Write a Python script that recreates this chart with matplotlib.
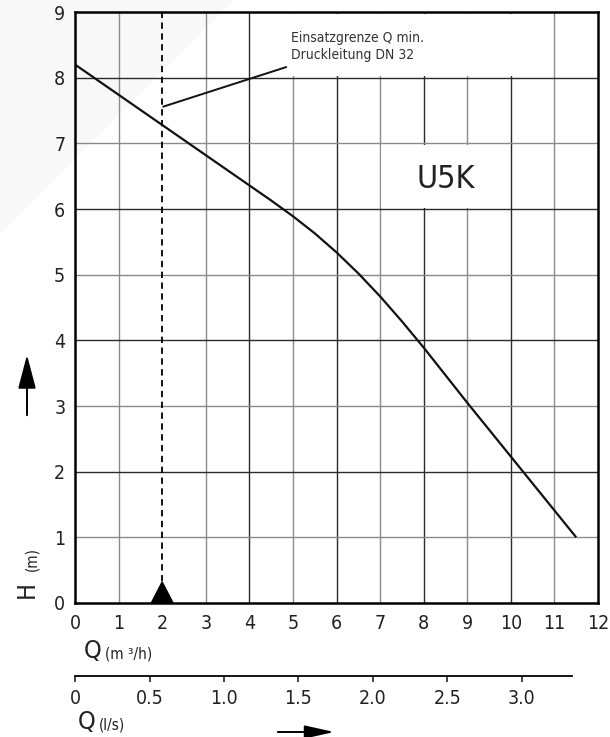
import matplotlib
matplotlib.use('Agg')
import matplotlib.pyplot as plt
from matplotlib.patches import Polygon, Rectangle, FancyArrowPatch

plt.rcParams['font.family'] = ['DejaVu Sans']
plt.rcParams['font.stretch'] = 'condensed'

# pump curve U5K
q_m3h = [0, 1, 2, 3, 4, 4.5, 5, 5.5, 6, 6.5, 7, 7.5, 8, 8.5, 9, 10, 11, 11.5]
head_m = [8.2, 7.74, 7.28, 6.82, 6.36, 6.13, 5.89, 5.63, 5.34, 5.02, 4.67, 4.29, 3.89, 3.47,
          3.05, 2.23, 1.41, 1.0]

q_min = 2  # Einsatzgrenze
x_ticks = list(range(0, 13))
y_ticks = list(range(0, 10))
ls_ticks = [0, 0.5, 1.0, 1.5, 2.0, 2.5, 3.0]
ls_labels = ['0', '0.5', '1.0', '1.5', '2.0', '2.5', '3.0']

note_text = 'Einsatzgrenze Q min.\nDruckleitung DN 32'
pump_name = 'U5K'

W, H = 610, 737
fig = plt.figure(figsize=(W / 100, H / 100), dpi=100)

# faint watermark corner in the background
fig.patches.append(Polygon([(0, 1), (233 / W, 1), (0, 1 - 233 / H)],
                           closed=True, transform=fig.transFigure,
                           facecolor='#f8f8f8', edgecolor='none', zorder=-5))

ax = fig.add_axes([75 / W, 1 - 603 / H, 523 / W, 591 / H])
ax.set_facecolor('none')
ax.set_xlim(0, 12)
ax.set_ylim(0, 9)

dark = '#2a2a2a'
light = '#8a8a8a'
for q in range(1, 12):
    if q == q_min:
        continue
    ax.vlines(q, 0, 9, colors=dark if q % 2 == 0 else light, lw=1.0, zorder=1)
for h in range(1, 9):
    ax.hlines(h, 0, 12, colors=dark if h % 2 == 0 else light, lw=1.0, zorder=1)

# blank boxes for the note and the pump name
ax.add_patch(Rectangle((4.03, 8.03), 6.94, 0.94, facecolor='white', edgecolor='none', zorder=1.5))
ax.add_patch(Rectangle((7.03, 6.02), 2.94, 0.96, facecolor='white', edgecolor='none', zorder=1.5))

ax.vlines(q_min, 0, 9, colors='black', lw=1.3, linestyles=(0, (3.5, 2.5)), zorder=2)
ax.fill([q_min - 0.25, q_min + 0.25, q_min], [0, 0, 0.32], color='black', zorder=4)

ax.plot(q_m3h, head_m, color='#111111', lw=1.6, zorder=3, solid_capstyle='butt')

ax.plot([2.03, 4.84], [7.56, 8.16], color='#111111', lw=1.4, zorder=3)
ax.text(4.95, 8.47, note_text, fontsize=10, va='center', ha='left',
        linespacing=1.25, color='#333333', zorder=4)
ax.text(8.5, 6.45, pump_name, fontsize=23, fontweight='light', ha='center', va='center',
        color='#222222', zorder=4)

for s in ax.spines.values():
    s.set_linewidth(1.8)
    s.set_zorder(5)
ax.set_xticks(x_ticks)
ax.set_yticks(y_ticks)
ax.tick_params(length=0, labelsize=14, colors='#222222')
ax.tick_params(axis='x', pad=8)
ax.tick_params(axis='y', pad=7)

# second flow scale in l/s
ax2 = fig.add_axes([75 / W, 1 - 676 / H, 523 / W, 0.001])
ax2.set_facecolor('none')
ax2.set_xlim(0, 3.0 * 523 / 447)
for side in ['top', 'left', 'right']:
    ax2.spines[side].set_visible(False)
ax2.spines['bottom'].set_bounds(0, 12 / 3.6)
ax2.spines['bottom'].set_linewidth(1.3)
ax2.set_yticks([])
ax2.set_xticks(ls_ticks)
ax2.set_xticklabels(ls_labels)
ax2.tick_params(axis='x', length=4, width=1.2, labelsize=14, pad=5, colors='#222222')

# axis titles
fig.text(84 / W, 1 - 651 / H, 'Q', fontsize=18, ha='left', va='center', color='#222222')
fig.text(105 / W, 1 - 654 / H, '(m ³/h)', fontsize=11, ha='left', va='center', color='#222222')
fig.text(78 / W, 1 - 722 / H, 'Q', fontsize=18, ha='left', va='center', color='#222222')
fig.text(99 / W, 1 - 725 / H, '(l/s)', fontsize=11, ha='left', va='center', color='#222222')
fig.text(27 / W, 1 - 590 / H, 'H', fontsize=18, rotation=90, ha='center', va='center', color='#222222')
fig.text(32 / W, 1 - 559 / H, '(m)', fontsize=11, rotation=90, ha='center', va='center', color='#222222')

# direction arrows
fig.patches.append(FancyArrowPatch((27 / W, 1 - 418 / H), (27 / W, 1 - 352 / H),
                                   transform=fig.transFigure, arrowstyle='-|>,head_length=2.1,head_width=0.55',
                                   mutation_scale=10, color='black', lw=1.4))
fig.patches.append(FancyArrowPatch((275 / W, 1 - 732 / H), (337 / W, 1 - 732 / H),
                                   transform=fig.transFigure, arrowstyle='-|>,head_length=1.8,head_width=0.4',
                                   mutation_scale=10, color='black', lw=1.4))

fig.savefig('out.png', dpi=100)
